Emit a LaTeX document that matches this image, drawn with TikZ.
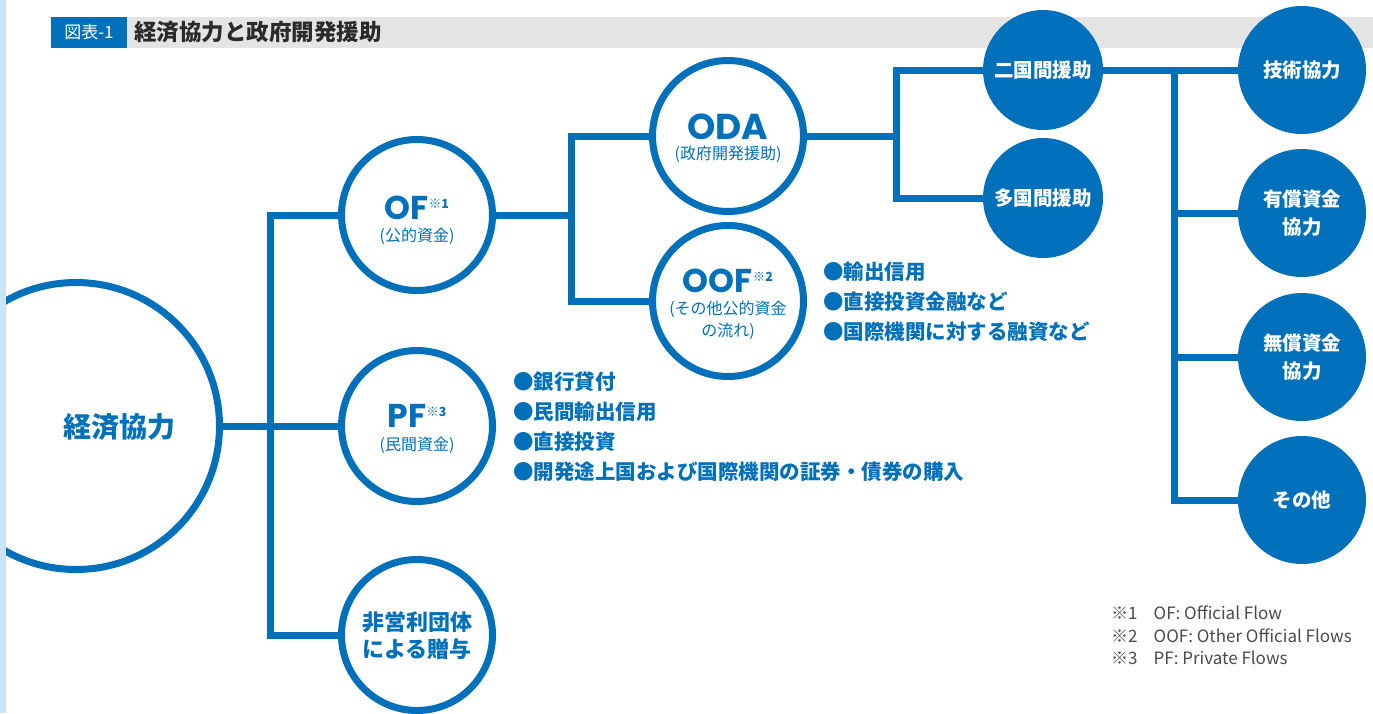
\documentclass[tikz,border=0pt]{standalone}
\usepackage{fontspec}
\newfontfamily\jp{Noto Sans CJK JP}
\newfontfamily\pop{Poppins}
\usetikzlibrary{calc}
\definecolor{oblue}{HTML}{0070BA}
\definecolor{stripc}{HTML}{C8E6F8}
\definecolor{bandc}{HTML}{E4E4E4}
\definecolor{ftxt}{HTML}{4A4A4A}
\definecolor{ttxt}{HTML}{2A2A2A}
\newcommand{\supm}[1]{\raisebox{11pt}{\jp\bfseries\fontsize{12.5}{12.5}\selectfont ※#1}}
\begin{document}
\begin{tikzpicture}[x=1pt,y=-1pt,
  ring/.style={circle, draw=oblue, line width=7pt, fill=white, inner sep=0pt,
    minimum size=151pt},
  disc/.style={circle, fill=oblue, inner sep=0pt, minimum size=#1, text=white,
    align=center, font=\jp\bfseries\fontsize{19.5}{28}\selectfont},
  disc/.default=128pt,
  conn/.style={draw=oblue, line width=7pt, line join=miter},
  big/.style={anchor=base, inner sep=0pt, text=oblue, text height=22pt, text depth=0pt,
    font=\pop\bfseries\fontsize{33}{33}\selectfont},
  sub/.style={anchor=base, inner sep=0pt, text=oblue, text height=13pt, text depth=2pt,
    font=\jp\fontsize{16}{16}\selectfont},
  bullets/.style={anchor=west, inner sep=0pt, align=left, text=oblue,
    font=\jp\bfseries\fontsize{20.5}{30}\selectfont}
]
\useasboundingbox (0,0) rectangle (1373,713);
\clip (0,0) rectangle (1373,713);

% title band
\fill[bandc] (51,17) rectangle (1373,48);
\node[fill=oblue, text=white, inner sep=0pt, minimum width=76pt, minimum height=31pt,
  font=\jp\fontsize{17}{17}\selectfont] (tag) at (89,32.5) {図表-1};
\node[anchor=west, inner sep=0pt, text=ttxt, font=\jp\bfseries\fontsize{22.5}{23}\selectfont]
  (title) at (134,32.5) {経済協力と政府開発援助};

% main circle
\node[ring, minimum size=287pt] (keizai) at (76,426) {};
\node[text=oblue, font=\jp\bfseries\fontsize{28}{28}\selectfont] (keizaiT) at (119,427) {経済協力};

% second level
\node[ring] (OF) at (417,215) {};
\node[big] (OFt) at (417,219) {OF\supm{1}};
\node[sub] (OFs) at (417,241) {(公的資金)};
\node[ring] (PF) at (417,426) {};
\node[big] (PFt) at (417,427) {PF\supm{3}};
\node[sub] (PFs) at (417,450) {(民間資金)};
\node[ring] (NPO) at (417,635) {};
\node[text=oblue, align=center, font=\jp\bfseries\fontsize{22}{27}\selectfont] (NPOt) at (417,636) {非営利団体\\による贈与};

% third level
\node[ring] (ODA) at (728,136) {};
\node[big, text height=25pt, font=\pop\bfseries\fontsize{36}{36}\selectfont] (ODAt) at (728,139) {ODA};
\node[sub] (ODAs) at (728,159.5) {(政府開発援助)};
\node[ring] (OOF) at (728,301) {};
\node[big] (OOFt) at (728,292) {OOF\supm{2}};
\node[sub] (OOFs1) at (728,314) {(その他公的資金};
\node[sub] (OOFs2) at (728,336) {の流れ)};

% filled circles
\node[disc=120pt] (bi) at (1043,70) {二国間援助};
\node[disc=120pt] (multi) at (1043,198) {多国間援助};
\node[disc] (tech) at (1302,70) {技術協力};
\node[disc] (loan) at (1302,213) {有償資金\\協力};
\node[disc] (grant) at (1302,357) {無償資金\\協力};
\node[disc] (other) at (1302,500) {その他};

% junction coordinates
\coordinate (j1) at (270,426);
\coordinate (j2) at (571,215);
\coordinate (j3) at (896,136);
\coordinate (j4) at (1174,70);

% connectors
\draw[conn] (keizai.east) -- (PF.west);
\draw[conn] (OF.west) -- (OF.west -| j1) -- (NPO.west -| j1) -- (NPO.west);
\draw[conn] (OF.east) -- (OF.east -| j2);
\draw[conn] (ODA.west) -- (ODA.west -| j2) -- (OOF.west -| j2) -- (OOF.west);
\draw[conn] (ODA.east) -- (ODA.east -| j3);
\draw[conn] (bi.west) -- (bi.west -| j3) -- (multi.west -| j3) -- (multi.west);
\draw[conn] (bi.east) -- (tech.west);
\draw[conn] (tech.west -| j4) -- (other.west -| j4) -- (other.west);
\draw[conn] (loan.west -| j4) -- (loan.west);
\draw[conn] (grant.west -| j4) -- (grant.west);

% bullet lists
\node[bullets] (oofList) at (823,302) {●輸出信用\\●直接投資金融など\\●国際機関に対する融資など};
\node[bullets] (pfList) at (513,426.5) {●銀行貸付\\●民間輸出信用\\●直接投資\\●開発途上国および国際機関の証券・債券の購入};

% footnotes
\node[anchor=west, inner sep=0pt, align=left, text=ftxt,
  font=\jp\fontsize{17}{22.5}\selectfont] (notes) at (1111,635.5)
  {※1\hspace{16pt}OF: Official Flow\\※2\hspace{16pt}OOF: Other Official Flows\\※3\hspace{16pt}PF: Private Flows};

% left strip
\fill[stripc] (0,0) rectangle (6,713);
\end{tikzpicture}
\end{document}
